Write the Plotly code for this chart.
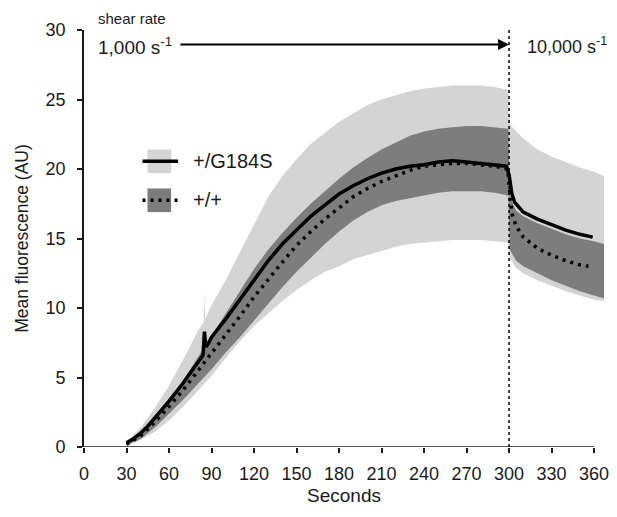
import plotly.graph_objects as go

# ---------------- data ----------------
# time grid for the bands (s)
t_band = [30, 40, 50, 60, 70, 80, 90, 100, 110, 120, 130, 140, 150, 160, 170, 180,
          190, 200, 210, 220, 230, 240, 250, 260, 270, 280, 290, 299.5, 300.5,
          305, 310, 320, 330, 340, 350, 360, 367]

# +/G184S band (light grey) upper edge, with a thin spike near 85 s
t_light_upper = [30, 40, 50, 60, 70, 80, 84.5, 85, 85.5, 90, 100, 110, 120, 130, 140, 150,
                 160, 170, 180, 190, 200, 210, 220, 230, 240, 250, 260, 270, 280, 290,
                 299.5, 300.5, 305, 310, 320, 330, 340, 350, 360, 367]
light_upper = [0.4, 1.4, 2.8, 4.4, 6.3, 8.3, 9.0, 11.1, 9.2, 10.2, 12.0, 14.0, 16.0, 18.0, 19.5, 20.7,
               21.8, 22.6, 23.4, 24.0, 24.6, 25.0, 25.3, 25.6, 25.8, 25.9, 26.0, 26.0, 26.0, 25.9,
               25.7, 23.2, 22.7, 22.2, 21.4, 20.9, 20.5, 20.1, 19.8, 19.5]
light_lower = [0.1, 0.5, 1.1, 1.9, 2.9, 4.0, 5.1, 6.4, 7.6, 8.7, 9.6, 10.5, 11.3, 12.0, 12.6, 13.0,
               13.5, 13.8, 14.1, 14.4, 14.6, 14.7, 14.8, 14.9, 14.9, 14.9, 14.8, 14.7, 13.6,
               12.9, 12.5, 12.0, 11.6, 11.2, 10.9, 10.6, 10.5]

# +/+ band (dark grey)
dark_upper = [0.3, 1.0, 2.0, 3.3, 4.8, 6.4, 8.0, 9.6, 11.2, 12.8, 14.2, 15.4, 16.5, 17.5, 18.4, 19.3,
              20.1, 20.8, 21.4, 21.9, 22.4, 22.7, 22.9, 23.0, 23.1, 23.1, 23.0, 22.9, 18.0,
              17.0, 16.6, 16.1, 15.7, 15.3, 15.0, 14.8, 14.6]
dark_lower = [0.1, 0.6, 1.4, 2.4, 3.4, 4.5, 5.6, 6.8, 7.9, 9.1, 10.3, 11.5, 12.6, 13.6, 14.6, 15.5,
              16.3, 16.9, 17.4, 17.7, 17.9, 18.1, 18.3, 18.4, 18.4, 18.4, 18.3, 18.1, 14.2,
              13.4, 13.0, 12.5, 12.0, 11.6, 11.2, 10.9, 10.7]

# mean curves
t_g184s = [30, 35, 40, 45, 50, 60, 70, 80, 84, 85, 86, 88, 90, 100, 110, 120, 130, 140, 150,
           160, 170, 180, 190, 200, 210, 220, 230, 240, 250, 260, 270, 280, 290, 298,
           300, 302, 304, 310, 320, 330, 340, 350, 359]
g184s = [0.3, 0.6, 1.0, 1.5, 2.1, 3.3, 4.6, 6.0, 6.6, 8.3, 7.2, 7.5, 7.9, 9.2, 10.6, 12.0, 13.4, 14.6, 15.6,
         16.6, 17.4, 18.2, 18.8, 19.3, 19.7, 20.0, 20.2, 20.3, 20.5, 20.6, 20.5, 20.4, 20.3, 20.2,
         19.6, 18.2, 17.6, 16.9, 16.4, 16.0, 15.6, 15.3, 15.1]

t_wt = [30, 40, 50, 60, 70, 80, 90, 100, 110, 120, 130, 140, 150, 160, 170, 180, 190, 200,
        210, 220, 230, 240, 250, 260, 270, 280, 290, 299, 300.5, 302, 305, 310, 320, 330,
        340, 350, 356]
wt = [0.2, 0.8, 1.8, 2.9, 4.1, 5.4, 6.7, 8.0, 9.4, 10.8, 12.1, 13.3, 14.5, 15.5, 16.4, 17.2, 18.0, 18.6,
      19.1, 19.5, 19.9, 20.2, 20.3, 20.4, 20.4, 20.3, 20.2, 20.0, 18.5, 16.8, 15.9, 15.1, 14.3, 13.8,
      13.4, 13.1, 13.0]

x_ticks = [0, 30, 60, 90, 120, 150, 180, 210, 240, 270, 300, 330, 360]
y_ticks = [0, 5, 10, 15, 20, 25, 30]
series_names = ["+/G184S", "+/+"]
shift_time = 300

# ---------------- style ----------------
LIGHT = "rgb(212,212,212)"
DARK = "rgb(125,125,125)"
INK = "#1a1a1a"
FONT = "Liberation Sans, Arial, sans-serif"

fig = go.Figure()

fig.add_trace(go.Scatter(
    x=t_light_upper + t_band[::-1], y=light_upper + light_lower[::-1],
    fill="toself", fillcolor=LIGHT, line=dict(width=0), mode="lines",
    hoverinfo="skip", showlegend=False))
fig.add_trace(go.Scatter(
    x=t_band + t_band[::-1], y=dark_upper + dark_lower[::-1],
    fill="toself", fillcolor=DARK, line=dict(width=0), mode="lines",
    hoverinfo="skip", showlegend=False))
fig.add_trace(go.Scatter(
    x=t_wt, y=wt, mode="lines", name=series_names[1],
    line=dict(color="black", width=3.5, dash="3px,5px"), showlegend=False))
fig.add_trace(go.Scatter(
    x=t_g184s, y=g184s, mode="lines", name=series_names[0],
    line=dict(color="black", width=3.5), showlegend=False))

shapes = [
    # x axis line (only to 360)
    dict(type="line", xref="x", yref="y", x0=0, x1=360, y0=0, y1=0,
         line=dict(color=INK, width=1.6)),
    # shear-rate switch
    dict(type="line", xref="x", yref="y", x0=shift_time, x1=shift_time, y0=0, y1=30,
         line=dict(color="black", width=1.5, dash="dot")),
]

# manual legend (rectangle behind a line sample)
leg = [(series_names[0], LIGHT, "solid", 20.55), (series_names[1], DARK, "3px,5px", 17.75)]
annotations = []
for name, col, dash, yc in leg:
    shapes.append(dict(type="rect", xref="x", yref="y", x0=44.8, x1=61.5,
                       y0=yc - 0.85, y1=yc + 0.85, fillcolor=col, line=dict(width=0), layer="above"))
    shapes.append(dict(type="line", xref="x", yref="y", x0=41.3, x1=66.4, y0=yc, y1=yc,
                       line=dict(color="black", width=3.5, dash=dash), layer="above"))
    annotations.append(dict(x=75.5, y=yc, xref="x", yref="y", text=name, showarrow=False,
                            xanchor="left", yanchor="middle", font=dict(size=20, color=INK)))

annotations += [
    dict(x=8.2, y=1.027, xref="x", yref="paper", text="shear rate", showarrow=False,
         xanchor="left", yanchor="middle", font=dict(size=15, color=INK)),
    dict(x=8.2, y=28.85, xref="x", yref="y", text="1,000 s<sup>-1</sup>", showarrow=False,
         xanchor="left", yanchor="middle", font=dict(size=19, color=INK)),
    dict(x=311.5, y=28.85, xref="x", yref="y", text="10,000 s<sup>-1</sup>", showarrow=False,
         xanchor="left", yanchor="middle", font=dict(size=18, color=INK)),
    dict(x=shift_time, y=28.95, ax=67, ay=28.95, xref="x", yref="y", axref="x", ayref="y",
         text="", showarrow=True, arrowhead=2, arrowsize=1.1, arrowwidth=2,
         arrowcolor="black", standoff=0),
]

fig.update_layout(
    width=617, height=517,
    margin=dict(l=84, r=8, t=30, b=70),
    paper_bgcolor="white", plot_bgcolor="white",
    font=dict(family=FONT, size=18, color=INK),
    shapes=shapes, annotations=annotations,
    showlegend=False,
)
fig.update_xaxes(
    range=[0, 367], tickvals=x_ticks, ticks="outside", ticklen=5, tickwidth=1.6,
    tickcolor=INK, showline=False, showgrid=False, zeroline=False,
    ticklabelstandoff=5, tickfont=dict(size=18),
    title=dict(text="Seconds", font=dict(size=19), standoff=6),
)
fig.update_yaxes(
    range=[0, 30], tickvals=y_ticks, ticks="outside", ticklen=5, tickwidth=1.6,
    tickcolor=INK, showline=True, linecolor=INK, linewidth=1.6,
    showgrid=False, zeroline=False, ticklabelstandoff=8, tickfont=dict(size=18),
    title=dict(text="Mean fluorescence (AU)", font=dict(size=17.5), standoff=12),
)

fig.write_html("out.html", config={"displayModeBar": False},
               post_script="document.body.style.margin='0';document.body.style.overflow='hidden';")
